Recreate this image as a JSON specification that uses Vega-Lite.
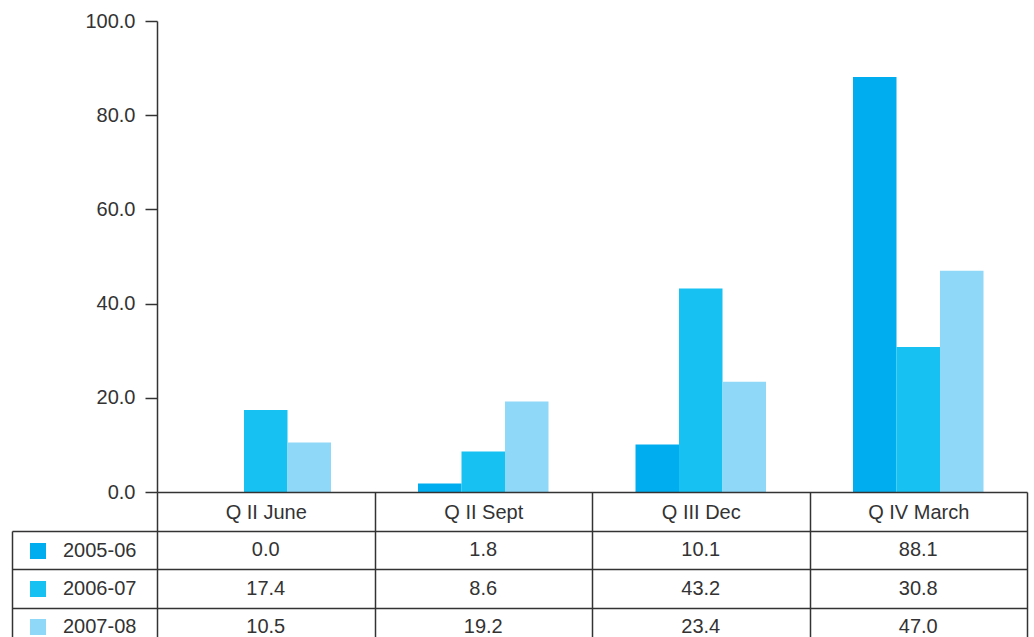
{
  "$schema": "https://vega.github.io/schema/vega-lite/v6.json",
  "padding": {"left": 11, "top": 11, "right": 7, "bottom": 0},
  "config": {"view": {"stroke": null}, "font": "Liberation Sans"},
  "data": {"values": [
    {"quarter": "Q II June", "series": "2005-06", "value": 0.0},
    {"quarter": "Q II June", "series": "2006-07", "value": 17.4},
    {"quarter": "Q II June", "series": "2007-08", "value": 10.5},
    {"quarter": "Q II Sept", "series": "2005-06", "value": 1.8},
    {"quarter": "Q II Sept", "series": "2006-07", "value": 8.6},
    {"quarter": "Q II Sept", "series": "2007-08", "value": 19.2},
    {"quarter": "Q III Dec", "series": "2005-06", "value": 10.1},
    {"quarter": "Q III Dec", "series": "2006-07", "value": 43.2},
    {"quarter": "Q III Dec", "series": "2007-08", "value": 23.4},
    {"quarter": "Q IV March", "series": "2005-06", "value": 88.1},
    {"quarter": "Q IV March", "series": "2006-07", "value": 30.8},
    {"quarter": "Q IV March", "series": "2007-08", "value": 47.0}
  ]},
  "spacing": 39,
  "bounds": "flush",
  "resolve": {"legend": {"color": "independent"}},
  "vconcat": [
    {
      "width": 870,
      "height": 471,
      "mark": {"type": "bar"},
      "encoding": {
        "x": {"field": "quarter", "type": "nominal", "sort": ["Q II June", "Q II Sept", "Q III Dec", "Q IV March"], "scale": {"paddingInner": 0, "paddingOuter": 0}, "axis": null},
        "xOffset": {"field": "series", "type": "nominal", "sort": ["2005-06", "2006-07", "2007-08"], "scale": {"paddingInner": 0, "paddingOuter": 1}},
        "y": {"field": "value", "type": "quantitative", "scale": {"domain": [0, 100], "nice": false},
          "axis": {"values": [0, 20, 40, 60, 80, 100], "format": ".1f", "grid": false, "tickSize": 12, "labelPadding": 10, "labelFontSize": 20, "labelColor": "#333333", "domainColor": "#333333", "tickColor": "#333333", "domainWidth": 1.5, "tickWidth": 1.5, "title": null}},
        "color": {"field": "series", "type": "nominal",
          "scale": {"domain": ["2005-06", "2006-07", "2007-08"], "range": ["#00AEEF", "#17C2F2", "#8FD8F7"]},
          "legend": {"orient": "none", "legendX": -129, "legendY": 520, "title": null, "symbolType": "square", "symbolSize": 256, "symbolStrokeWidth": 0, "rowPadding": 18, "labelOffset": 15, "labelFontSize": 20, "labelColor": "#333333", "padding": 0}}
      }
    },
    {
      "width": 870,
      "height": 115,
      "mark": {"type": "text", "fontSize": 20, "color": "#333333"},
      "encoding": {
        "x": {"field": "quarter", "type": "nominal", "sort": ["Q II June", "Q II Sept", "Q III Dec", "Q IV March"], "scale": {"paddingInner": 0, "paddingOuter": 0},
          "axis": {"orient": "top", "offset": 39, "tickSize": -154, "tickBand": "extent", "labelPadding": 134, "labelBaseline": "middle", "labelAngle": 0, "labelFontSize": 20, "labelColor": "#333333", "domainColor": "#333333", "tickColor": "#333333", "domainWidth": 1.5, "tickWidth": 1.5, "grid": false, "title": null}},
        "y": {"field": "series", "type": "nominal", "sort": ["2005-06", "2006-07", "2007-08"], "scale": {"paddingInner": 0, "paddingOuter": 0},
          "axis": {"orient": "left", "offset": 145, "tickSize": -1015, "tickBand": "extent", "labels": false, "domainColor": "#333333", "tickColor": "#333333", "domainWidth": 1.5, "tickWidth": 1.5, "grid": false, "title": null}},
        "text": {"field": "value", "type": "quantitative", "format": ".1f"}
      }
    }
  ]
}
